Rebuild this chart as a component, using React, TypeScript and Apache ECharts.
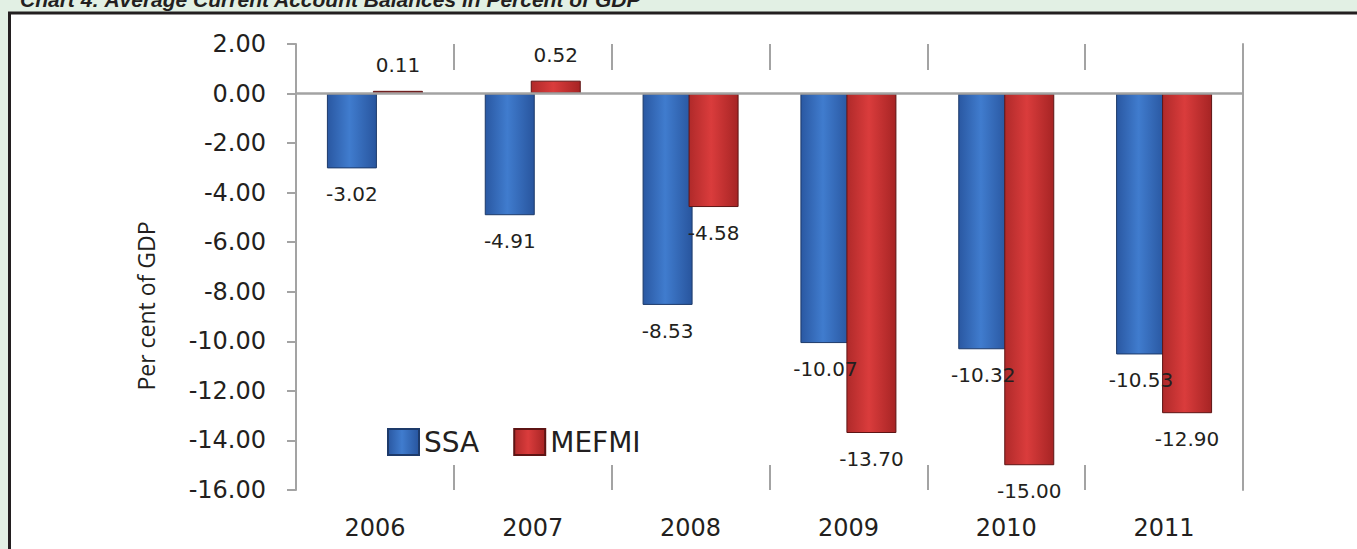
import React, { useEffect, useRef } from "react";
import * as echarts from "echarts";

const categories = ["2006", "2007", "2008", "2009", "2010", "2011"];
const ssaValues = [-3.02, -4.91, -8.53, -10.07, -10.32, -10.53];
const mefmiValues = [0.11, 0.52, -4.58, -13.7, -15.0, -12.9];
const seriesNames = ["SSA", "MEFMI"];
const yTitle = "Per cent of GDP";
const chartTitle = "Chart 4: Average Current Account Balances in Percent of GDP";

const TEXT = "#231f20";
const GRAY = "#a3a3a3";

const blueFill = new echarts.graphic.LinearGradient(0, 0, 1, 0, [
  { offset: 0, color: "#2a58a2" },
  { offset: 0.45, color: "#407cce" },
  { offset: 1, color: "#28559e" },
]);
const redFill = new echarts.graphic.LinearGradient(0, 0, 1, 0, [
  { offset: 0, color: "#b02a2a" },
  { offset: 0.45, color: "#da3c3c" },
  { offset: 1, color: "#a62424" },
]);

export default function App() {
  const ref = useRef<HTMLDivElement>(null);
  useEffect(() => {
    document.body.style.margin = "0";
    const chart = echarts.init(ref.current!, null, { renderer: "svg" });
    const labelCommon = {
      show: true,
      position: "outside" as any,
      distance: 16,
      fontFamily: "DejaVu Sans",
      fontSize: 20,
      color: TEXT,
      formatter: (p: any) => Number(p.value).toFixed(2),
    };
    chart.setOption({
      animation: false,
      backgroundColor: "#e2f0e4",
      graphic: [
        {
          type: "rect",
          z: -10,
          shape: { x: 9.5, y: 13, width: 1400, height: 600 },
          style: { fill: "#ffffff", stroke: TEXT, lineWidth: 3 },
        },
        {
          type: "text",
          x: 20,
          y: 10,
          style: {
            text: chartTitle,
            font: "italic bold 21px 'Liberation Sans', Arial, sans-serif",
            fill: TEXT,
            verticalAlign: "bottom",
          },
        },
        {
          type: "text",
          x: 146,
          y: 306,
          rotation: Math.PI / 2,
          style: {
            text: yTitle,
            font: "23px 'Open Sans', sans-serif",
            fill: TEXT,
            align: "center",
            verticalAlign: "middle",
          },
        },
      ],
      legend: {
        left: 382,
        top: 423,
        itemWidth: 31,
        itemHeight: 26,
        itemGap: 34,
        icon: "rect",
        textStyle: { fontFamily: "DejaVu Sans", fontSize: 28, color: TEXT },
        data: seriesNames,
      },
      grid: { left: 296, right: 114, top: 44, bottom: 59 },
      xAxis: [
        {
          type: "category",
          data: categories,
          position: "bottom",
          axisLine: { show: false, onZero: false },
          axisTick: { show: true, inside: true, length: 25, lineStyle: { color: GRAY, width: 2 } },
          axisLabel: { margin: 26, fontFamily: "DejaVu Sans", fontSize: 24, color: TEXT },
        },
        {
          type: "category",
          data: categories,
          position: "top",
          axisLine: { show: false, onZero: false },
          axisTick: { show: true, inside: true, length: 26, lineStyle: { color: GRAY, width: 2 } },
          axisLabel: { show: false },
        },
      ],
      yAxis: [
        {
          type: "value",
          min: -16,
          max: 2,
          interval: 2,
          axisLine: { show: true, lineStyle: { color: GRAY, width: 2 } },
          axisTick: { show: true, length: 9, lineStyle: { color: GRAY, width: 2 } },
          splitLine: { show: false },
          axisLabel: {
            margin: 30,
            fontFamily: "DejaVu Sans",
            fontSize: 24,
            color: TEXT,
            formatter: (v: number) => v.toFixed(2),
          },
        },
        {
          type: "value",
          min: -16,
          max: 2,
          interval: 2,
          position: "right",
          axisLine: { show: true, lineStyle: { color: GRAY, width: 2 } },
          axisTick: { show: false },
          axisLabel: { show: false },
          splitLine: { show: false },
        },
      ],
      series: [
        {
          name: seriesNames[0],
          type: "bar",
          data: ssaValues,
          barWidth: 50,
          barGap: "-8%",
          itemStyle: { color: blueFill, borderColor: "#1d3a6a", borderWidth: 1 },
          label: labelCommon,
          markLine: {
            silent: true,
            symbol: "none",
            label: { show: false },
            lineStyle: { color: GRAY, width: 2.5, type: "solid" },
            data: [{ yAxis: 0 }],
            z: 10,
          },
        },
        {
          name: seriesNames[1],
          type: "bar",
          data: mefmiValues,
          barWidth: 50,
          barGap: "-8%",
          itemStyle: { color: redFill, borderColor: "#5e1414", borderWidth: 1 },
          label: labelCommon,
        },
      ],
    });
    return () => chart.dispose();
  }, []);
  return <div ref={ref} style={{ width: 1357, height: 549 }} />;
}
